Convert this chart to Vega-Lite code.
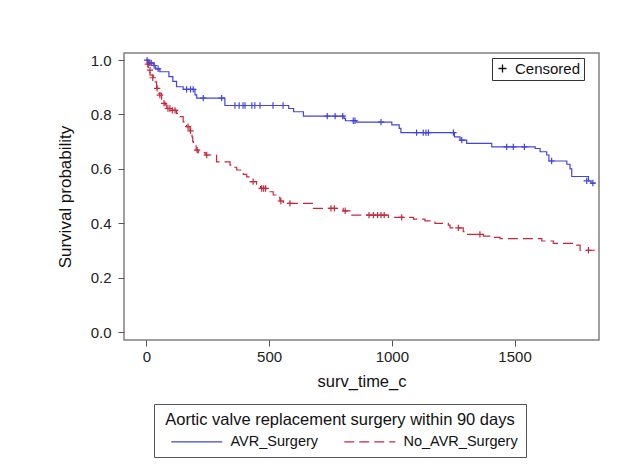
{
  "$schema": "https://vega.github.io/schema/vega-lite/v6.json",
  "width": 475,
  "height": 287,
  "autosize": "none",
  "padding": {"left": 124, "top": 53, "right": 40, "bottom": 129},
  "background": "white",
  "config": {
    "font": "Liberation Sans",
    "view": {"stroke": "#808080", "strokeWidth": 1.5},
    "axis": {"grid": false, "domain": false, "tickColor": "#555555", "tickSize": 6, "labelFontSize": 15, "labelColor": "#222222", "titleFontSize": 16.5, "titleFontWeight": "normal", "titleColor": "#111111"}
  },
  "datasets": {
    "curve": [
      {"group": "AVR_Surgery", "time": 0, "surv": 1.0},
      {"group": "AVR_Surgery", "time": 10, "surv": 0.99},
      {"group": "AVR_Surgery", "time": 28, "surv": 0.98},
      {"group": "AVR_Surgery", "time": 38, "surv": 0.968},
      {"group": "AVR_Surgery", "time": 55, "surv": 0.957},
      {"group": "AVR_Surgery", "time": 92, "surv": 0.939},
      {"group": "AVR_Surgery", "time": 108, "surv": 0.922},
      {"group": "AVR_Surgery", "time": 123, "surv": 0.902},
      {"group": "AVR_Surgery", "time": 150, "surv": 0.892},
      {"group": "AVR_Surgery", "time": 198, "surv": 0.872},
      {"group": "AVR_Surgery", "time": 205, "surv": 0.86},
      {"group": "AVR_Surgery", "time": 320, "surv": 0.833},
      {"group": "AVR_Surgery", "time": 580, "surv": 0.822},
      {"group": "AVR_Surgery", "time": 600, "surv": 0.81},
      {"group": "AVR_Surgery", "time": 640, "surv": 0.794},
      {"group": "AVR_Surgery", "time": 805, "surv": 0.786},
      {"group": "AVR_Surgery", "time": 811, "surv": 0.777},
      {"group": "AVR_Surgery", "time": 855, "surv": 0.772},
      {"group": "AVR_Surgery", "time": 1000, "surv": 0.762},
      {"group": "AVR_Surgery", "time": 1030, "surv": 0.749},
      {"group": "AVR_Surgery", "time": 1037, "surv": 0.733},
      {"group": "AVR_Surgery", "time": 1255, "surv": 0.718},
      {"group": "AVR_Surgery", "time": 1278, "surv": 0.706},
      {"group": "AVR_Surgery", "time": 1305, "surv": 0.694},
      {"group": "AVR_Surgery", "time": 1407, "surv": 0.681},
      {"group": "AVR_Surgery", "time": 1584, "surv": 0.675},
      {"group": "AVR_Surgery", "time": 1604, "surv": 0.663},
      {"group": "AVR_Surgery", "time": 1631, "surv": 0.651},
      {"group": "AVR_Surgery", "time": 1640, "surv": 0.629},
      {"group": "AVR_Surgery", "time": 1713, "surv": 0.617},
      {"group": "AVR_Surgery", "time": 1726, "surv": 0.6},
      {"group": "AVR_Surgery", "time": 1733, "surv": 0.572},
      {"group": "AVR_Surgery", "time": 1801, "surv": 0.556},
      {"group": "AVR_Surgery", "time": 1812, "surv": 0.548},
      {"group": "AVR_Surgery", "time": 1828, "surv": 0.548},
      {"group": "No_AVR_Surgery", "time": 0, "surv": 1.0},
      {"group": "No_AVR_Surgery", "time": 5, "surv": 0.985},
      {"group": "No_AVR_Surgery", "time": 8, "surv": 0.97},
      {"group": "No_AVR_Surgery", "time": 15, "surv": 0.945},
      {"group": "No_AVR_Surgery", "time": 28, "surv": 0.92},
      {"group": "No_AVR_Surgery", "time": 42, "surv": 0.896},
      {"group": "No_AVR_Surgery", "time": 49, "surv": 0.878},
      {"group": "No_AVR_Surgery", "time": 62, "surv": 0.853},
      {"group": "No_AVR_Surgery", "time": 76, "surv": 0.835},
      {"group": "No_AVR_Surgery", "time": 83, "surv": 0.822},
      {"group": "No_AVR_Surgery", "time": 100, "surv": 0.815},
      {"group": "No_AVR_Surgery", "time": 123, "surv": 0.804},
      {"group": "No_AVR_Surgery", "time": 137, "surv": 0.792},
      {"group": "No_AVR_Surgery", "time": 150, "surv": 0.773},
      {"group": "No_AVR_Surgery", "time": 164, "surv": 0.755},
      {"group": "No_AVR_Surgery", "time": 178, "surv": 0.74},
      {"group": "No_AVR_Surgery", "time": 186, "surv": 0.718},
      {"group": "No_AVR_Surgery", "time": 189, "surv": 0.7},
      {"group": "No_AVR_Surgery", "time": 192, "surv": 0.688},
      {"group": "No_AVR_Surgery", "time": 203, "surv": 0.669},
      {"group": "No_AVR_Surgery", "time": 212, "surv": 0.66},
      {"group": "No_AVR_Surgery", "time": 240, "surv": 0.651},
      {"group": "No_AVR_Surgery", "time": 286, "surv": 0.626},
      {"group": "No_AVR_Surgery", "time": 341, "surv": 0.614},
      {"group": "No_AVR_Surgery", "time": 354, "surv": 0.606},
      {"group": "No_AVR_Surgery", "time": 368, "surv": 0.596},
      {"group": "No_AVR_Surgery", "time": 395, "surv": 0.58},
      {"group": "No_AVR_Surgery", "time": 409, "surv": 0.571},
      {"group": "No_AVR_Surgery", "time": 422, "surv": 0.553},
      {"group": "No_AVR_Surgery", "time": 449, "surv": 0.538},
      {"group": "No_AVR_Surgery", "time": 465, "surv": 0.528},
      {"group": "No_AVR_Surgery", "time": 504, "surv": 0.516},
      {"group": "No_AVR_Surgery", "time": 517, "surv": 0.504},
      {"group": "No_AVR_Surgery", "time": 531, "surv": 0.495},
      {"group": "No_AVR_Surgery", "time": 544, "surv": 0.482},
      {"group": "No_AVR_Surgery", "time": 558, "surv": 0.473},
      {"group": "No_AVR_Surgery", "time": 680, "surv": 0.455},
      {"group": "No_AVR_Surgery", "time": 802, "surv": 0.446},
      {"group": "No_AVR_Surgery", "time": 830, "surv": 0.43},
      {"group": "No_AVR_Surgery", "time": 986, "surv": 0.422},
      {"group": "No_AVR_Surgery", "time": 1088, "surv": 0.415},
      {"group": "No_AVR_Surgery", "time": 1135, "surv": 0.409},
      {"group": "No_AVR_Surgery", "time": 1176, "surv": 0.4},
      {"group": "No_AVR_Surgery", "time": 1230, "surv": 0.393},
      {"group": "No_AVR_Surgery", "time": 1237, "surv": 0.383},
      {"group": "No_AVR_Surgery", "time": 1291, "surv": 0.369},
      {"group": "No_AVR_Surgery", "time": 1305, "surv": 0.359},
      {"group": "No_AVR_Surgery", "time": 1373, "surv": 0.353},
      {"group": "No_AVR_Surgery", "time": 1407, "surv": 0.348},
      {"group": "No_AVR_Surgery", "time": 1441, "surv": 0.344},
      {"group": "No_AVR_Surgery", "time": 1611, "surv": 0.335},
      {"group": "No_AVR_Surgery", "time": 1658, "surv": 0.326},
      {"group": "No_AVR_Surgery", "time": 1753, "surv": 0.32},
      {"group": "No_AVR_Surgery", "time": 1767, "surv": 0.301},
      {"group": "No_AVR_Surgery", "time": 1828, "surv": 0.301}
    ],
    "censor": [
      {"group": "AVR_Surgery", "status": "Censored", "time": 3, "surv": 1.0},
      {"group": "AVR_Surgery", "status": "Censored", "time": 14, "surv": 0.99},
      {"group": "AVR_Surgery", "status": "Censored", "time": 20, "surv": 0.99},
      {"group": "AVR_Surgery", "status": "Censored", "time": 32, "surv": 0.98},
      {"group": "AVR_Surgery", "status": "Censored", "time": 48, "surv": 0.968},
      {"group": "AVR_Surgery", "status": "Censored", "time": 164, "surv": 0.892},
      {"group": "AVR_Surgery", "status": "Censored", "time": 180, "surv": 0.892},
      {"group": "AVR_Surgery", "status": "Censored", "time": 191, "surv": 0.892},
      {"group": "AVR_Surgery", "status": "Censored", "time": 232, "surv": 0.86},
      {"group": "AVR_Surgery", "status": "Censored", "time": 307, "surv": 0.86},
      {"group": "AVR_Surgery", "status": "Censored", "time": 361, "surv": 0.833},
      {"group": "AVR_Surgery", "status": "Censored", "time": 378, "surv": 0.833},
      {"group": "AVR_Surgery", "status": "Censored", "time": 394, "surv": 0.833},
      {"group": "AVR_Surgery", "status": "Censored", "time": 402, "surv": 0.833},
      {"group": "AVR_Surgery", "status": "Censored", "time": 430, "surv": 0.833},
      {"group": "AVR_Surgery", "status": "Censored", "time": 442, "surv": 0.833},
      {"group": "AVR_Surgery", "status": "Censored", "time": 463, "surv": 0.833},
      {"group": "AVR_Surgery", "status": "Censored", "time": 516, "surv": 0.833},
      {"group": "AVR_Surgery", "status": "Censored", "time": 557, "surv": 0.833},
      {"group": "AVR_Surgery", "status": "Censored", "time": 737, "surv": 0.794},
      {"group": "AVR_Surgery", "status": "Censored", "time": 769, "surv": 0.794},
      {"group": "AVR_Surgery", "status": "Censored", "time": 800, "surv": 0.794},
      {"group": "AVR_Surgery", "status": "Censored", "time": 843, "surv": 0.777},
      {"group": "AVR_Surgery", "status": "Censored", "time": 850, "surv": 0.777},
      {"group": "AVR_Surgery", "status": "Censored", "time": 956, "surv": 0.772},
      {"group": "AVR_Surgery", "status": "Censored", "time": 1101, "surv": 0.733},
      {"group": "AVR_Surgery", "status": "Censored", "time": 1128, "surv": 0.733},
      {"group": "AVR_Surgery", "status": "Censored", "time": 1139, "surv": 0.733},
      {"group": "AVR_Surgery", "status": "Censored", "time": 1149, "surv": 0.733},
      {"group": "AVR_Surgery", "status": "Censored", "time": 1251, "surv": 0.733},
      {"group": "AVR_Surgery", "status": "Censored", "time": 1285, "surv": 0.706},
      {"group": "AVR_Surgery", "status": "Censored", "time": 1468, "surv": 0.681},
      {"group": "AVR_Surgery", "status": "Censored", "time": 1495, "surv": 0.681},
      {"group": "AVR_Surgery", "status": "Censored", "time": 1540, "surv": 0.681},
      {"group": "AVR_Surgery", "status": "Censored", "time": 1651, "surv": 0.629},
      {"group": "AVR_Surgery", "status": "Censored", "time": 1794, "surv": 0.556},
      {"group": "AVR_Surgery", "status": "Censored", "time": 1819, "surv": 0.548},
      {"group": "No_AVR_Surgery", "status": "Censored", "time": 6, "surv": 0.985},
      {"group": "No_AVR_Surgery", "status": "Censored", "time": 15, "surv": 0.963},
      {"group": "No_AVR_Surgery", "status": "Censored", "time": 26, "surv": 0.935},
      {"group": "No_AVR_Surgery", "status": "Censored", "time": 44, "surv": 0.896},
      {"group": "No_AVR_Surgery", "status": "Censored", "time": 55, "surv": 0.871},
      {"group": "No_AVR_Surgery", "status": "Censored", "time": 72, "surv": 0.841},
      {"group": "No_AVR_Surgery", "status": "Censored", "time": 88, "surv": 0.822},
      {"group": "No_AVR_Surgery", "status": "Censored", "time": 96, "surv": 0.822},
      {"group": "No_AVR_Surgery", "status": "Censored", "time": 106, "surv": 0.815},
      {"group": "No_AVR_Surgery", "status": "Censored", "time": 117, "surv": 0.815},
      {"group": "No_AVR_Surgery", "status": "Censored", "time": 170, "surv": 0.755},
      {"group": "No_AVR_Surgery", "status": "Censored", "time": 180, "surv": 0.74},
      {"group": "No_AVR_Surgery", "status": "Censored", "time": 207, "surv": 0.669},
      {"group": "No_AVR_Surgery", "status": "Censored", "time": 246, "surv": 0.651},
      {"group": "No_AVR_Surgery", "status": "Censored", "time": 435, "surv": 0.553},
      {"group": "No_AVR_Surgery", "status": "Censored", "time": 470, "surv": 0.528},
      {"group": "No_AVR_Surgery", "status": "Censored", "time": 478, "surv": 0.528},
      {"group": "No_AVR_Surgery", "status": "Censored", "time": 486, "surv": 0.528},
      {"group": "No_AVR_Surgery", "status": "Censored", "time": 548, "surv": 0.482},
      {"group": "No_AVR_Surgery", "status": "Censored", "time": 585, "surv": 0.473},
      {"group": "No_AVR_Surgery", "status": "Censored", "time": 752, "surv": 0.455},
      {"group": "No_AVR_Surgery", "status": "Censored", "time": 766, "surv": 0.455},
      {"group": "No_AVR_Surgery", "status": "Censored", "time": 810, "surv": 0.446},
      {"group": "No_AVR_Surgery", "status": "Censored", "time": 907, "surv": 0.43},
      {"group": "No_AVR_Surgery", "status": "Censored", "time": 925, "surv": 0.43},
      {"group": "No_AVR_Surgery", "status": "Censored", "time": 942, "surv": 0.43},
      {"group": "No_AVR_Surgery", "status": "Censored", "time": 956, "surv": 0.43},
      {"group": "No_AVR_Surgery", "status": "Censored", "time": 969, "surv": 0.43},
      {"group": "No_AVR_Surgery", "status": "Censored", "time": 1040, "surv": 0.422},
      {"group": "No_AVR_Surgery", "status": "Censored", "time": 1271, "surv": 0.383},
      {"group": "No_AVR_Surgery", "status": "Censored", "time": 1359, "surv": 0.359},
      {"group": "No_AVR_Surgery", "status": "Censored", "time": 1801, "surv": 0.301}
    ]
  },
  "layer": [
    {
      "data": {"name": "curve"},
      "mark": {"type": "line", "interpolate": "step-after", "strokeWidth": 1.2},
      "encoding": {
        "x": {"field": "time", "type": "quantitative", "scale": {"domain": [-91, 1844], "nice": false, "zero": false},
              "axis": {"values": [0, 500, 1000, 1500], "format": "d", "title": "surv_time_c", "labelPadding": 3, "titlePadding": 9}},
        "y": {"field": "surv", "type": "quantitative", "scale": {"domain": [-0.029, 1.026], "nice": false, "zero": false},
              "axis": {"values": [0, 0.2, 0.4, 0.6, 0.8, 1.0], "format": ".1f", "title": "Survival probability", "titleFontSize": 17, "labelPadding": 7, "titlePadding": 16}},
        "color": {"field": "group", "type": "nominal",
                  "scale": {"domain": ["AVR_Surgery", "No_AVR_Surgery"], "range": ["#4343E0", "#C8283C"]},
                  "legend": {"orient": "none", "legendX": 30, "legendY": 351, "direction": "horizontal",
                             "title": "Aortic valve replacement surgery within 90 days", "titleAnchor": "middle", "titleLimit": 1000,
                             "titleFontSize": 16.5, "titleFontWeight": "normal", "titleColor": "#111111", "titlePadding": 6,
                             "labelFontSize": 14.5, "labelColor": "#111111", "labelOffset": 54, "columnPadding": 16, "labelLimit": 500,
                             "symbolType": "M0.4,0H10.6", "symbolSize": 100, "symbolStrokeWidth": 1.2,
                             "strokeColor": "#555555", "padding": 8, "fillColor": "white"}},
        "strokeDash": {"field": "group", "type": "nominal",
                       "scale": {"domain": ["AVR_Surgery", "No_AVR_Surgery"], "range": [[1, 0], [10, 5]]},
                       "legend": {"orient": "none", "legendX": 30, "legendY": 351, "direction": "horizontal",
                             "title": "Aortic valve replacement surgery within 90 days", "titleAnchor": "middle", "titleLimit": 1000,
                             "titleFontSize": 16.5, "titleFontWeight": "normal", "titleColor": "#111111", "titlePadding": 6,
                             "labelFontSize": 14.5, "labelColor": "#111111", "labelOffset": 54, "columnPadding": 16, "labelLimit": 500,
                             "symbolType": "M0.4,0H10.6", "symbolSize": 100, "symbolStrokeWidth": 1.2,
                             "strokeColor": "#555555", "padding": 8, "fillColor": "white"}}
      }
    },
    {
      "data": {"name": "censor"},
      "mark": {"type": "point", "shape": "M-1,0H1M0,-1V1", "filled": false, "size": 40, "strokeWidth": 1.2, "opacity": 1},
      "encoding": {
        "x": {"field": "time", "type": "quantitative"},
        "y": {"field": "surv", "type": "quantitative"},
        "color": {"field": "group", "type": "nominal"},
        "shape": {"field": "status", "type": "nominal",
                  "scale": {"domain": ["Censored"], "range": ["M-1,0H1M0,-1V1"]},
                  "legend": {"orient": "none", "legendX": 368, "legendY": 5, "title": null,
                             "labelFontSize": 15, "labelColor": "#111111", "labelOffset": 5,
                             "symbolStrokeColor": "#111111", "symbolSize": 64, "symbolStrokeWidth": 1.3,
                             "strokeColor": "#333333", "padding": 3, "fillColor": "white"}}
      }
    }
  ]
}
